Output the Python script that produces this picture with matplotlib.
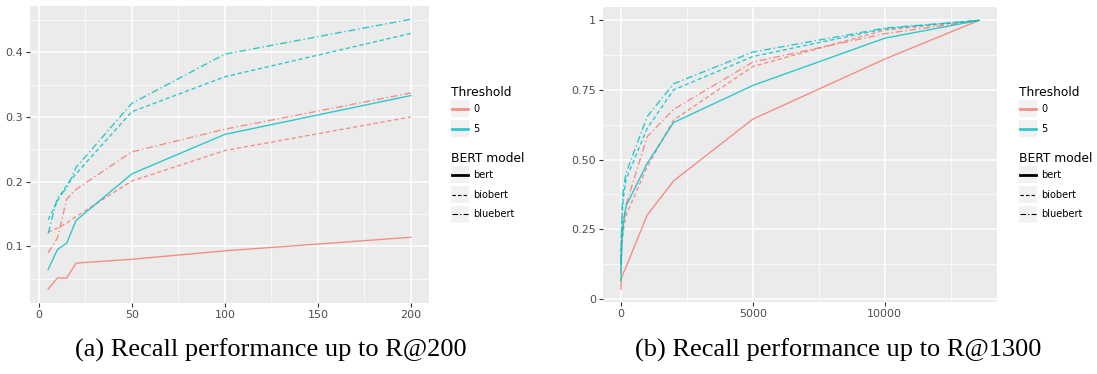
import matplotlib
matplotlib.use('Agg')
import matplotlib.pyplot as plt
from matplotlib.lines import Line2D
from matplotlib.patches import Rectangle
from matplotlib.ticker import MultipleLocator

# recall@k values
k_short = [5, 10, 15, 20, 50, 100, 200]
k_long = [5, 10, 15, 20, 50, 100, 200, 1000, 2000, 5000, 10000, 13572]

red_bert = [0.034, 0.051, 0.051, 0.074, 0.080, 0.093, 0.114, 0.300, 0.423, 0.645, 0.861, 1.0]
red_biobert = [0.122, 0.128, 0.136, 0.146, 0.201, 0.248, 0.300, 0.474, 0.642, 0.834, 0.965, 1.0]
red_bluebert = [0.090, 0.113, 0.173, 0.188, 0.246, 0.281, 0.337, 0.582, 0.680, 0.850, 0.952, 1.0]
cyan_bert = [0.064, 0.095, 0.105, 0.140, 0.212, 0.273, 0.333, 0.486, 0.633, 0.766, 0.936, 1.0]
cyan_biobert = [0.141, 0.170, 0.195, 0.212, 0.308, 0.362, 0.429, 0.612, 0.750, 0.870, 0.970, 1.0]
cyan_bluebert = [0.120, 0.175, 0.190, 0.222, 0.321, 0.397, 0.451, 0.654, 0.772, 0.886, 0.972, 1.0]

thresholds = ['0', '5']
models = ['bert', 'biobert', 'bluebert']
captions = ['(a) Recall performance up to R@200', '(b) Recall performance up to R@1300']

RED = '#F8766D'
CYAN = '#00BFC4'
styles = {'bert': '-', 'biobert': (0, (3, 2)), 'bluebert': (0, (5, 2, 1, 2))}
series = [(RED, 'bert', red_bert), (RED, 'biobert', red_biobert), (RED, 'bluebert', red_bluebert),
          (CYAN, 'bert', cyan_bert), (CYAN, 'biobert', cyan_biobert), (CYAN, 'bluebert', cyan_bluebert)]

W, H = 1097, 374
fig = plt.figure(figsize=(W / 100, H / 100), dpi=100)


def box(l, t, r, b):
    return [l / W, 1 - b / H, (r - l) / W, (b - t) / H]


def style_ax(ax):
    ax.set_facecolor('#EBEBEB')
    for s in ax.spines.values():
        s.set_visible(False)
    ax.grid(which='major', color='white', lw=1.1)
    ax.grid(which='minor', color='white', lw=0.5)
    ax.set_axisbelow(True)
    ax.tick_params(which='major', length=3, width=0.8, color='#333333',
                   labelcolor='#4D4D4D', labelsize=8, pad=2)
    ax.tick_params(which='minor', length=0)


# panel a
ax1 = fig.add_axes(box(30, 6, 429, 303))
n = len(k_short)
for c, m, v in series:
    ax1.plot(k_short, v[:n], color=c, ls=styles[m], lw=1.0, alpha=0.8)
ax1.set_xlim(-4.75, 209.75)
ax1.set_ylim(0.0124, 0.4714)
ax1.xaxis.set_major_locator(MultipleLocator(50))
ax1.xaxis.set_minor_locator(MultipleLocator(25))
ax1.yaxis.set_minor_locator(MultipleLocator(0.05))
ax1.set_yticks([0.1, 0.2, 0.3, 0.4])
ax1.set_yticklabels(['0.1', '0.2', '0.3', '0.4'])
style_ax(ax1)

# panel b
ax2 = fig.add_axes(box(603, 7, 997, 302))
for c, m, v in series:
    ax2.plot(k_long, v, color=c, ls=styles[m], lw=1.0, alpha=0.8)
ax2.set_xlim(-673, 14250)
ax2.set_ylim(-0.012, 1.048)
ax2.set_xticks([0, 5000, 10000])
ax2.xaxis.set_minor_locator(MultipleLocator(2500))
ax2.set_yticks([0, 0.25, 0.5, 0.75, 1])
ax2.set_yticklabels(['0', '0.25', '0.50', '0.75', '1'])
ax2.yaxis.set_minor_locator(MultipleLocator(0.125))
style_ax(ax2)


# legends drawn by hand in pixel coords, ggplot style
def legend(x0):
    fig.text(x0 / W, 1 - 92 / H, 'Threshold', fontsize=8.8, va='center', color='black')
    for i, (lab, c) in enumerate(zip(thresholds, [RED, CYAN])):
        t = 100 + 20 * i
        fig.add_artist(Rectangle((x0 / W, 1 - (t + 17.3) / H), 18 / W, 17.3 / H,
                                 transform=fig.transFigure, color='#F2F2F2', lw=0))
        yy = 1 - (t + 8.7) / H
        fig.add_artist(Line2D([(x0 + 1) / W, (x0 + 17) / W], [yy, yy], color=c, lw=2,
                              transform=fig.transFigure, alpha=0.8))
        fig.text((x0 + 22) / W, yy, lab, fontsize=7, va='center')
    fig.text(x0 / W, 1 - 158 / H, 'BERT model', fontsize=8.8, va='center', color='black')
    for i, m in enumerate(models):
        t = 166 + 19.8 * i
        fig.add_artist(Rectangle((x0 / W, 1 - (t + 17.3) / H), 18 / W, 17.3 / H,
                                 transform=fig.transFigure, color='#F2F2F2', lw=0))
        yy = 1 - (t + 8.7) / H
        fig.add_artist(Line2D([(x0 + 1) / W, (x0 + 17) / W], [yy, yy], color='black',
                              lw=2 if m == 'bert' else 0.8, ls=styles[m],
                              transform=fig.transFigure))
        fig.text((x0 + 22) / W, yy, m, fontsize=7, va='center')


legend(451)
legend(1019)

fig.text(271 / W, 1 - 350 / H, captions[0], fontsize=19, family='Liberation Serif',
         ha='center', va='center')
fig.text(838 / W, 1 - 350 / H, captions[1], fontsize=19, family='Liberation Serif',
         ha='center', va='center')

fig.savefig('out.png', dpi=100)
